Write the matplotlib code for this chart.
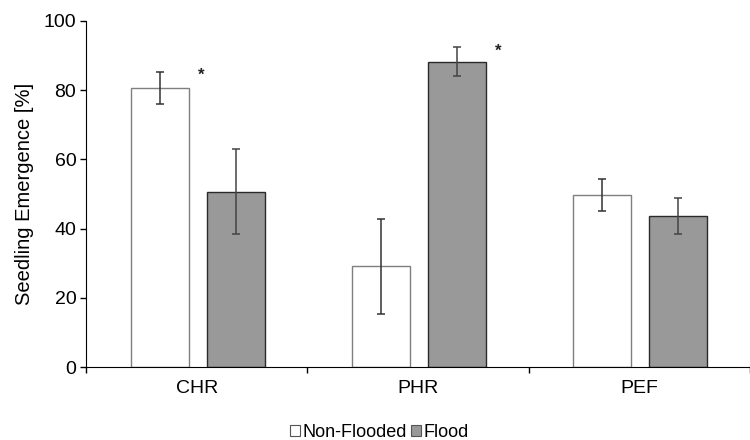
import numpy as np
import matplotlib
matplotlib.use("Agg")
import matplotlib.pyplot as plt
from matplotlib.patches import Patch

plt.rcParams["font.family"] = ["Liberation Sans", "DejaVu Sans"]

# Data
categories = ["CHR", "PHR", "PEF"]
non_flooded = [80.6, 29.1, 49.7]
non_flooded_lo = [76.0, 15.3, 45.1]
non_flooded_hi = [85.4, 42.7, 54.3]
flood = [50.6, 88.1, 43.6]
flood_lo = [38.3, 84.0, 38.4]
flood_hi = [63.0, 92.4, 48.7]
significant = [True, True, False]

x = np.arange(len(categories)) + 0.5
width = 0.263

fig = plt.figure(figsize=(7.5, 4.4), dpi=100)
ax = fig.add_axes([86 / 750, 73 / 440, 664 / 750, 346 / 440])

nf_err = [np.subtract(non_flooded, non_flooded_lo), np.subtract(non_flooded_hi, non_flooded)]
fl_err = [np.subtract(flood, flood_lo), np.subtract(flood_hi, flood)]

ax.bar(x - 0.167, non_flooded, width, color="white", edgecolor="#7f7f7f", linewidth=1.0,
       yerr=nf_err, error_kw=dict(ecolor="#333333", elinewidth=1.1, capsize=3, capthick=1.1))
ax.bar(x + 0.176, flood, width, color="#999999", edgecolor="#2a2a2a", linewidth=1.0,
       yerr=fl_err, error_kw=dict(ecolor="#444444", elinewidth=1.1, capsize=3, capthick=1.1))

# significance stars next to the higher bar
for i, sig in enumerate(significant):
    if not sig:
        continue
    if non_flooded[i] > flood[i]:
        xr, ytop = x[i] - 0.167 + width / 2, non_flooded_hi[i]
    else:
        xr, ytop = x[i] + 0.176 + width / 2, flood_hi[i]
    ax.annotate("*", xy=(xr, ytop), xytext=(9, -3), textcoords="offset points",
                ha="center", va="center", fontsize=12, fontweight="bold", color="#222222")

ax.set_xlim(0, 664 / 224)
ax.set_ylim(0, 100)
ax.set_yticks([0, 20, 40, 60, 80, 100])
ax.set_xticks(x)
ax.set_xticklabels(categories)
ax.set_xticks([0, 1, 2, 3], minor=True)
ax.tick_params(axis="x", which="major", length=0, pad=9, labelsize=14)
ax.tick_params(axis="x", which="minor", length=4, width=1, direction="out")
ax.tick_params(axis="y", length=4, width=1, direction="out", labelsize=14, pad=3)
ax.spines["top"].set_visible(False)
ax.spines["right"].set_visible(False)
ax.set_ylabel("Seedling Emergence [%]", fontsize=14.5, labelpad=7)

handles = [Patch(facecolor="white", edgecolor="#555555", linewidth=0.8),
           Patch(facecolor="#999999", edgecolor="#555555", linewidth=0.8)]
fig.legend(handles, ["Non-Flooded", "Flood"], loc="center right", bbox_to_anchor=(469 / 750, 1 - 432 / 440),
           ncol=2, frameon=False, fontsize=13, handlelength=0.55, handleheight=0.55,
           handletextpad=0.15, columnspacing=0.25, borderpad=0, borderaxespad=0)

fig.savefig("out.png", dpi=100, facecolor="white")
